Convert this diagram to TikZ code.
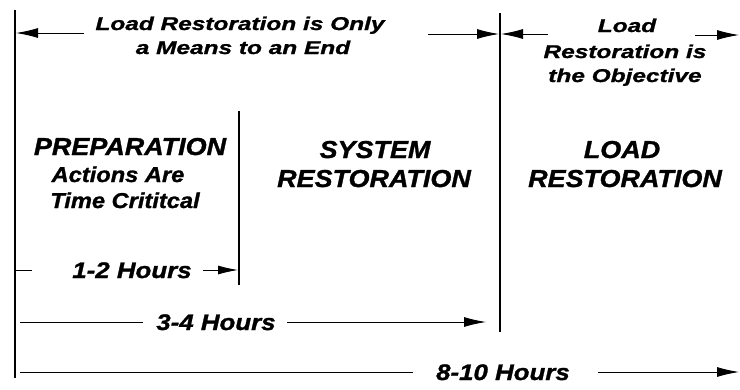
\documentclass[tikz,border=0pt]{standalone}
\usepackage{fontspec}
\setmainfont{Liberation Sans}
\newfontfamily\bigf[FakeStretch=1.1,FakeBold=1.2]{Liberation Sans}
\newfontfamily\smallf[FakeStretch=1.32,FakeBold=1.2]{Liberation Sans}
\newfontfamily\hrf[FakeStretch=1.15,FakeBold=1.2]{Liberation Sans}
\usetikzlibrary{arrows.meta}
\begin{document}
\begin{tikzpicture}[x=1pt,y=-1pt,
  vline/.style={line width=1.8pt},
  arr/.style={line width=0.9pt,-{Latex[length=22pt,width=10pt]}},
  sarr/.style={line width=0.9pt,-{Latex[length=20pt,width=9pt]}},
  plain/.style={line width=0.9pt},
  head/.style={font=\bigf\bfseries\itshape\fontsize{24.5}{27}\selectfont, inner sep=0pt, anchor=base},
  sub/.style={font=\bigf\bfseries\itshape\fontsize{21.5}{24}\selectfont, inner sep=0pt, anchor=base},
  top/.style={font=\smallf\bfseries\itshape\fontsize{18.5}{21}\selectfont, inner sep=0pt, anchor=base},
  hrs/.style={font=\hrf\bfseries\itshape\fontsize{22.5}{25}\selectfont, inner sep=0pt, anchor=base}]
\useasboundingbox (0,0) rectangle (740,389);
% vertical lines
\coordinate (L0) at (15,10);   \coordinate (L1) at (15,378);
\coordinate (M0) at (239,111); \coordinate (M1) at (239,285);
\coordinate (R0) at (500,13);  \coordinate (R1) at (500,332);
\draw[vline] (L0) -- (L1);
\draw[vline] (M0) -- (M1);
\draw[vline] (R0) -- (R1);
% top labels
\node[top] (t1a) at (240,30) {Load Restoration is Only};
\node[top] (t1b) at (243,54) {a Means to an End};
\node[top] (t2a) at (627,32) {Load};
\node[top] (t2b) at (625,58) {Restoration is};
\node[top] (t2c) at (625,82) {the Objective};
\coordinate (a1s) at (84,33);  \coordinate (a1e) at (16,33);
\coordinate (a2s) at (428,34); \coordinate (a2e) at (499,34);
\coordinate (a3s) at (548,34); \coordinate (a3e) at (501,34);
\coordinate (a4s) at (695,35); \coordinate (a4e) at (739,35);
\draw[arr] (a1s) -- (a1e);
\draw[arr] (a2s) -- (a2e);
\draw[arr] (a3s) -- (a3e);
\draw[arr] (a4s) -- (a4e);
% headings
\node[head] (prep) at (130,155) {PREPARATION};
\node[sub] (prepa) at (118,182) {Actions Are};
\node[sub] (prepb) at (125,208) {Time Crititcal};
\node[head] (sys1) at (375,158) {SYSTEM};
\node[head] (sys2) at (374,187) {RESTORATION};
\node[head] (load1) at (622,158) {LOAD};
\node[head] (load2) at (625,187) {RESTORATION};
% hours
\node[hrs] (h1) at (132,278) {1-2 Hours};
\coordinate (h1l0) at (16,270); \coordinate (h1l1) at (32,270);
\coordinate (h1s) at (203,270); \coordinate (h1e) at (238,270);
\draw[plain] (h1l0) -- (h1l1);
\draw[sarr] (h1s) -- (h1e);
\node[hrs] (h2) at (216,330) {3-4 Hours};
\coordinate (h2l0) at (20,322); \coordinate (h2l1) at (143,322);
\coordinate (h2s) at (287,322); \coordinate (h2e) at (486,322);
\draw[plain] (h2l0) -- (h2l1);
\draw[arr] (h2s) -- (h2e);
\node[hrs] (h3) at (503,380) {8-10 Hours};
\coordinate (h3l0) at (20,372); \coordinate (h3l1) at (413,372);
\coordinate (h3s) at (598,372); \coordinate (h3e) at (739,372);
\draw[plain] (h3l0) -- (h3l1);
\draw[arr] (h3s) -- (h3e);
\end{tikzpicture}
\end{document}
